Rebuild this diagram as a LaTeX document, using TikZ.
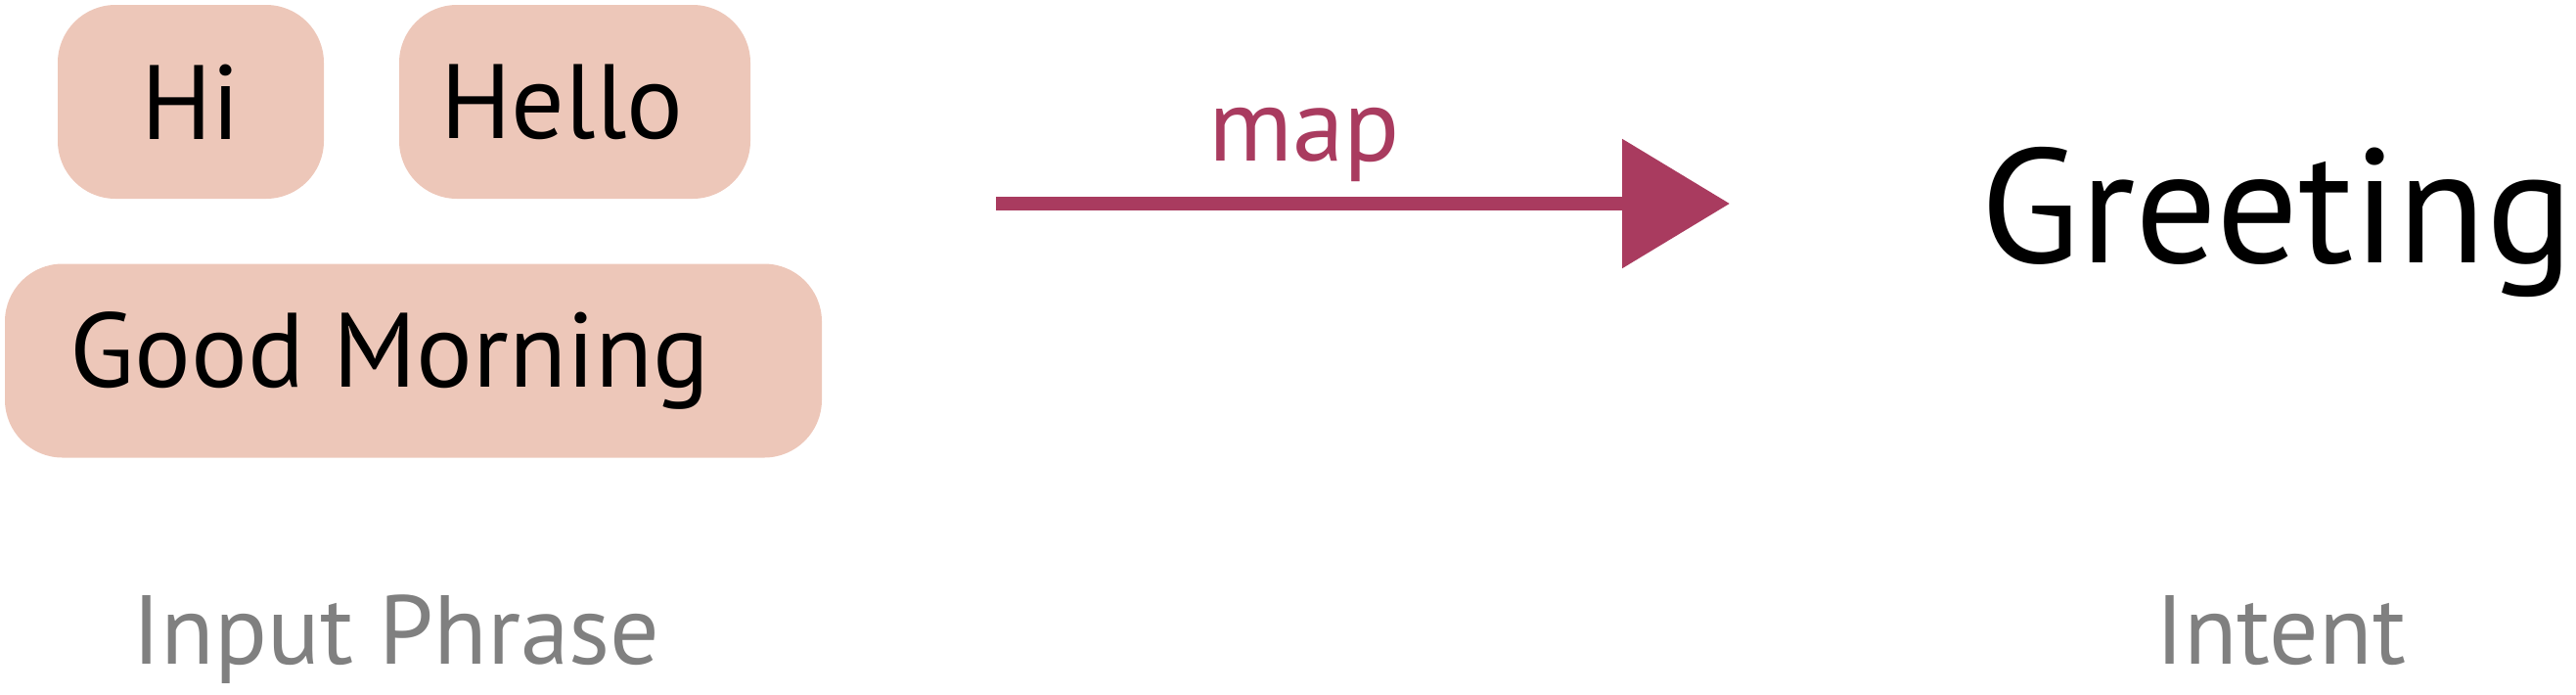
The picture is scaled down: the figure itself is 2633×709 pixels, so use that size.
\documentclass[tikz,border=0pt]{standalone}
\usepackage{fontspec}
\setmainfont{PT Sans}
\usetikzlibrary{arrows.meta}
\definecolor{peach}{RGB}{237,199,185}
\definecolor{wine}{RGB}{169,59,95}
\definecolor{labelgray}{RGB}{128,128,128}
\tikzset{
  phrase/.style={fill=peach, rounded corners=29.5pt, inner sep=0pt, minimum height=99pt, font=\fontsize{54}{60}\selectfont},
  caption/.style={anchor=base, text=labelgray, inner sep=0pt, font=\fontsize{50}{56}\selectfont}
}
\begin{document}
\begin{tikzpicture}[x=0.5pt, y=-0.5pt]
  \useasboundingbox (0,0) rectangle (2633,709);

  % input phrases
  \node[phrase, minimum width=136pt] (hi) at (195,104) {Hi};
  \node[phrase, minimum width=179.5pt] (hello) at (587.5,104) {Hello\hspace*{13pt}};
  \node[phrase, minimum width=417.5pt] (morning) at (422.5,368.5) {Good Morning\hspace*{24pt}};

  % mapping arrow
  \coordinate (mapstart) at (1018,208);
  \coordinate (mapend) at (1768,208);
  \draw[wine, line width=6.8pt, -{Triangle[length=55pt, width=64.5pt]}] (mapstart) -- (mapend);
  \node[wine, anchor=base, inner sep=0pt, font=\fontsize{53}{58}\selectfont] (map) at (1333,164) {map};

  \node[anchor=base west, inner sep=0pt, font=\fontsize{83}{90}\selectfont] (greeting) at (2024,268) {Greeting};

  % captions
  \node[caption] (input) at (405,678) {Input Phrase};
  \node[caption] (intent) at (2331,678) {Intent};
\end{tikzpicture}
\end{document}
